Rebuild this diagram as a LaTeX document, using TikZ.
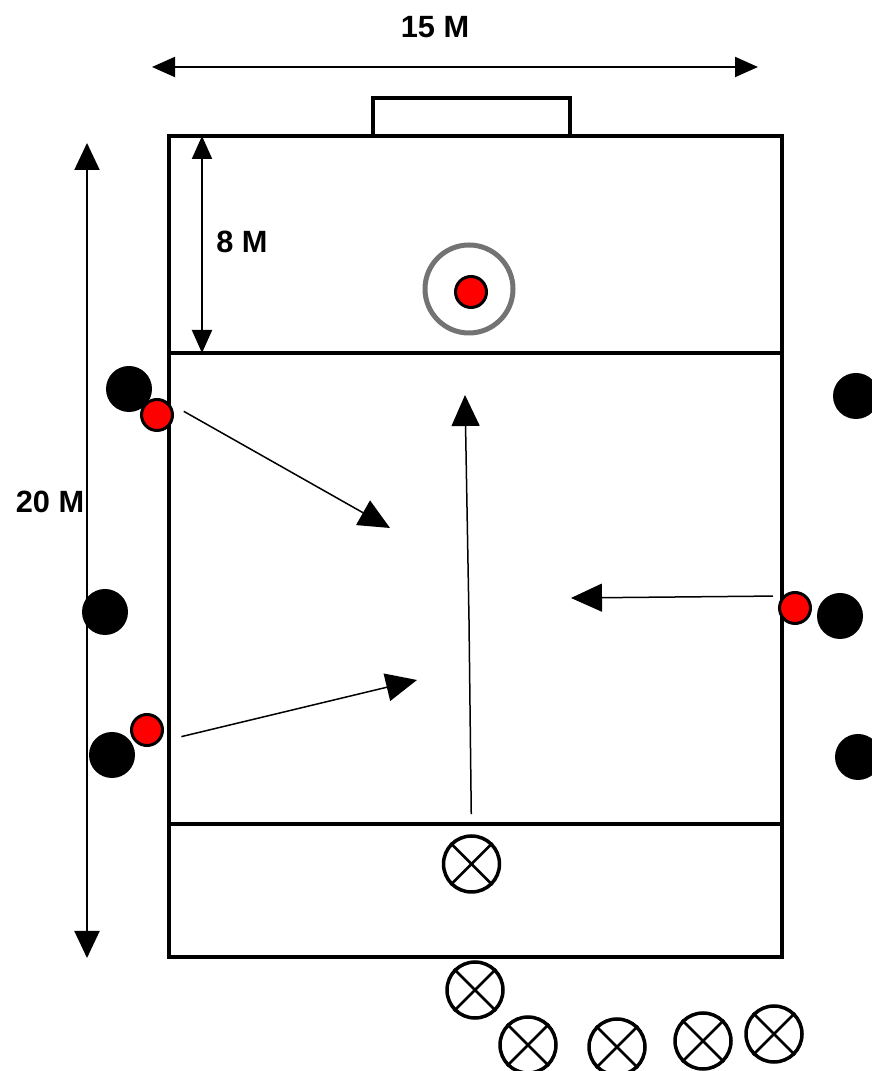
\documentclass[tikz,border=0pt]{standalone}
\usepackage{fontspec}
\setmainfont{Liberation Sans}
\usetikzlibrary{arrows.meta}

\begin{document}
\begin{tikzpicture}[font=\fontsize{17.5}{20}\selectfont\bfseries, >={Triangle[length=0.46cm,width=0.40cm]},
  courtline/.style={line width=0.08cm},
  dimline/.style={line width=0.04cm, <->},
  runline/.style={line width=0.03cm, -{Triangle[length=0.62cm,width=0.56cm]}},
  player/.style={circle, fill=black, inner sep=0pt, minimum size=0.92cm},
  ball/.style={circle, draw, fill=red, line width=0.06cm, inner sep=0pt, minimum size=0.62cm},
  waiting/.style={circle, draw, fill=white, line width=0.07cm, inner sep=0pt, minimum size=1.12cm}]
\useasboundingbox (0,0) rectangle (17.44,21.42);
% court and goal
\draw[courtline] (3.38,2.28) rectangle (15.64,18.70);
\draw[courtline] (3.38,14.36) -- (15.64,14.36);
\draw[courtline] (3.38,4.94) -- (15.64,4.94);
\draw[courtline] (7.46,18.70) rectangle (11.40,19.46);
% dimensions
\node (L15) at (8.70,20.88) {15 M};
\node (L20) at (1.00,11.38) {20 M};
\node (L8) at (4.84,16.58) {8 M};
\coordinate (D15a) at (3.04,20.08); \coordinate (D15b) at (15.16,20.08);
\coordinate (D20a) at (1.74,18.56); \coordinate (D20b) at (1.74,2.26);
\coordinate (D8a) at (4.04,18.70); \coordinate (D8b) at (4.04,14.36);
\draw[dimline] (D15a) -- (D15b);
\draw[dimline, {Triangle[length=0.54cm,width=0.50cm]}-{Triangle[length=0.54cm,width=0.50cm]}] (D20a) -- (D20b);
\draw[dimline] (D8a) -- (D8b);
% target
\node (Ring) at (9.38,15.64) [circle, draw=black!55, line width=0.10cm, inner sep=0pt, minimum size=1.76cm] {};
\node (B0) at (9.42,15.58) [ball] {};
% players
\node (P1) at (2.58,13.64) [player] {};
\node (P2) at (2.10,9.18) [player] {};
\node (P3) at (2.24,6.32) [player] {};
\node (P4) at (17.12,13.50) [player] {};
\node (P5) at (16.80,9.10) [player] {};
\node (P6) at (17.16,6.28) [player] {};
\node (B1) at (3.14,13.12) [ball] {};
\node (B2) at (2.94,6.82) [ball] {};
\node (B3) at (15.90,9.26) [ball] {};
% waiting line
\node (X1) at (9.43,4.14) [waiting] {};
\node (X2) at (9.50,1.62) [waiting] {};
\node (X3) at (10.56,0.52) [waiting] {};
\node (X4) at (12.34,0.48) [waiting] {};
\node (X5) at (14.06,0.60) [waiting] {};
\node (X6) at (15.48,0.74) [waiting] {};
\draw[line width=0.05cm] (X1.45) -- (X1.225); \draw[line width=0.05cm] (X1.135) -- (X1.315);
\draw[line width=0.05cm] (X2.45) -- (X2.225); \draw[line width=0.05cm] (X2.135) -- (X2.315);
\draw[line width=0.05cm] (X3.45) -- (X3.225); \draw[line width=0.05cm] (X3.135) -- (X3.315);
\draw[line width=0.05cm] (X4.45) -- (X4.225); \draw[line width=0.05cm] (X4.135) -- (X4.315);
\draw[line width=0.05cm] (X5.45) -- (X5.225); \draw[line width=0.05cm] (X5.135) -- (X5.315);
\draw[line width=0.05cm] (X6.45) -- (X6.225); \draw[line width=0.05cm] (X6.135) -- (X6.315);
% runs
\coordinate (T1) at (7.80,10.86);
\coordinate (T2) at (8.34,7.82);
\coordinate (T3) at (11.42,9.46);
\coordinate (T4) at (9.30,13.52);
\coordinate (K4) at (9.38,9.02);
\draw[runline, shorten <=0.34cm] (B1.north east) -- (T1);
\draw[runline, shorten <=0.46cm] (B2.south east) -- (T2);
\draw[runline, shorten <=0.2cm] (B3.north west) -- (T3);
\draw[runline, shorten <=0.4cm] (X1.north) -- (K4) -- (T4);
\end{tikzpicture}
\end{document}
